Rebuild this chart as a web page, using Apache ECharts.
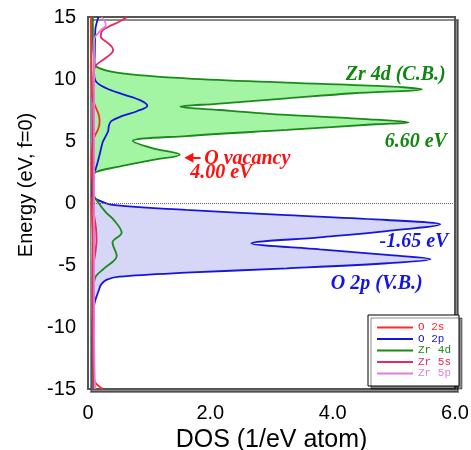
<!DOCTYPE html>
<html>
<head>
<meta charset="utf-8">
<script src="https://cdn.jsdelivr.net/npm/echarts@6/dist/echarts.min.js"></script>
<style>
html, body { margin: 0; padding: 0; background: #fff; }
#chart { width: 471px; height: 450px; }
</style>
</head>
<body>
<div id="chart"></div>
<script>
// energy (eV) / DOS pairs, listed top to bottom
const o2sE   = [15, 10, 8.5, 7.8, 7.2, 6.6, 6.0, 5.5, 5.0, 3.0, 0, -3, -10, -13.5, -14.2, -14.6, -15]
const o2sDos = [0.05, 0.06, 0.07, 0.12, 0.17, 0.19, 0.17, 0.12, 0.08, 0.06, 0.06, 0.08, 0.07, 0.07, 0.09, 0.14, 0.24]

const o2pE   = [15, 14.5, 14, 12, 10.5, 9.8, 9.25, 8.8, 8.3, 7.85, 7.4, 7.0, 6.6, 6.2, 5.8, 5.3, 4.9, 3.9, 2.8, 2.3, 1.5, 0.6,
                0.25, -0.15, -0.55, -0.97, -1.37, -1.72, -2.26, -2.77, -3.25, -3.74, -4.19, -4.54, -4.86, -5.27, -5.62, -5.94,
                -6.2, -6.6, -7.0, -7.4, -8.0, -9, -15]
const o2pDos = [0.17, 0.14, 0.12, 0.11, 0.1, 0.13, 0.3, 0.55, 0.85, 0.97, 0.8, 0.55, 0.38, 0.34, 0.33, 0.28, 0.24, 0.19, 0.13, 0.09, 0.07, 0.07,
                0.16, 0.4, 1.6, 3.25, 4.89, 5.76, 4.89, 3.79, 2.67, 3.79, 4.89, 5.6, 4.89, 3.25, 1.6, 0.51,
                0.3, 0.21, 0.18, 0.15, 0.11, 0.08, 0.07]

const zr4dE   = [15, 13, 11.6, 11.0, 10.5, 10.05, 9.7, 9.4, 9.17, 8.85, 8.44, 8.0, 7.77, 7.5, 7.1, 6.75, 6.5, 6.35, 5.89, 5.4, 5.0,
                 4.41, 3.9, 3.47, 2.93, 2.5, 2.0, 1.0, 0.1, -0.8, -1.3, -2.4, -3.2, -4.25, -5.3, -5.9, -6.75, -8, -15]
const zr4dDos = [0.08, 0.08, 0.1, 0.13, 0.5, 1.6, 3.25, 4.9, 5.46, 4.34, 3.25, 2.1, 1.51, 2.15, 3.25, 4.6, 5.24, 4.7, 3.25, 1.6, 0.73,
                 1.06, 1.5, 1.06, 0.51, 0.13, 0.08, 0.07, 0.16, 0.3, 0.41, 0.55, 0.4, 0.47, 0.26, 0.13, 0.09, 0.08, 0.07]

const zr5sE   = [15, 14.6, 14.2, 13.8, 13.4, 13.0, 12.6, 12.3, 12.0, 11.6, 11.2, 10.8, 10, 5, 0, -1, -2, -3, -4, -5, -6, -10, -15]
const zr5sDos = [0.64, 0.5, 0.33, 0.22, 0.21, 0.3, 0.39, 0.41, 0.37, 0.26, 0.15, 0.1, 0.09, 0.08, 0.08, 0.1, 0.13, 0.14, 0.12, 0.09, 0.08, 0.08, 0.09]

const zr5pE   = [15, 14.6, 14.3, 14.0, 13.6, 13.2, 12, 5, 0, -5, -10, -14, -15]
const zr5pDos = [0.22, 0.28, 0.29, 0.22, 0.15, 0.1, 0.1, 0.1, 0.1, 0.1, 0.1, 0.11, 0.12]

const names = ['O 2s', 'O 2p', 'Zr 4d', 'Zr 5s', 'Zr 5p']
const colors = ['#ff2a2a', '#1515e0', '#1a8a1a', '#e8285e', '#e07ee0']

const xTicks = [0, 2, 4, 6]
const xTickLabels = ['0', '2.0', '4.0', '6.0']

// band windows that get a shaded area
const cbFill = { top: 11.6, bottom: 2.0 }
const vbFill = { top: 0.6, bottom: -9 }

const chart = echarts.init(document.getElementById('chart'))

const pairs = (E, dos) => E.map((e, i) => [dos[i], e])

function lineSeries(i, E, dos, extra) {
  return Object.assign({
    name: names[i],
    type: 'line',
    data: pairs(E, dos),
    smooth: 0.35,
    symbol: 'none',
    z: 3,
    lineStyle: { width: 1.8, color: colors[i] },
    itemStyle: { color: colors[i] },
  }, extra || {})
}

function fillSeries(E, dos, win, color) {
  const pts = pairs(E, dos).filter((p) => p[1] <= win.top && p[1] >= win.bottom)
  return {
    type: 'custom',
    silent: true,
    z: 1,
    data: [[0, 0]],
    renderItem: (params, api) => ({
      type: 'polygon',
      shape: { points: pts.map((p) => api.coord(p)), smooth: 0.35 },
      style: { fill: color },
    }),
  }
}

const serif = { fontFamily: 'Liberation Serif', fontStyle: 'italic', fontWeight: 'bold', fontSize: 20 }
function note(coord, text, color, align) {
  return {
    coord: coord,
    value: text,
    label: Object.assign({ show: true, formatter: text, color: color, align: align || 'center', position: 'inside' }, serif),
  }
}

chart.setOption({
  animation: false,
  backgroundColor: '#fff',
  grid: {
    left: 88, right: 16, top: 17, bottom: 61,
    outerBoundsMode: 'none',
    show: true,
    backgroundColor: '#fff',
    borderColor: '#555',
    borderWidth: 2,
    shadowColor: 'rgba(0,0,0,0.45)',
    shadowOffsetX: 3,
    shadowOffsetY: 3,
  },
  xAxis: {
    type: 'value', min: 0, max: 6, interval: 2,
    name: 'DOS (1/eV atom)', nameLocation: 'middle', nameGap: 35,
    nameTextStyle: { fontFamily: 'Liberation Sans', fontSize: 25, color: '#000' },
    axisLine: { show: false }, axisTick: { show: false }, splitLine: { show: false },
    axisLabel: {
      fontFamily: 'Liberation Sans', fontSize: 20, color: '#000', margin: 14,
      formatter: (v) => xTickLabels[xTicks.indexOf(v)],
    },
  },
  yAxis: {
    type: 'value', min: -15, max: 15, interval: 5,
    name: 'Energy (eV, f=0)', nameLocation: 'middle', nameGap: 50,
    nameTextStyle: { fontFamily: 'Liberation Sans', fontSize: 20, color: '#000', padding: [0, 0, 0, 36] },
    axisLine: { show: false }, axisTick: { show: false }, splitLine: { show: false },
    axisLabel: { fontFamily: 'Liberation Sans', fontSize: 20, color: '#000', margin: 12 },
  },
  legend: {
    orient: 'vertical',
    left: 368, top: 315,
    padding: [7, 8, 7, 8],
    itemWidth: 36, itemHeight: 11, itemGap: 0.5, itemTextGap: 3,
    backgroundColor: '#fff',
    borderColor: '#000', borderWidth: 1,
    shadowColor: 'rgba(0,0,0,0.45)', shadowOffsetX: 3, shadowOffsetY: 3,
    itemStyle: { opacity: 0, borderWidth: 0 },
    lineStyle: { width: 2 },
    textStyle: { fontFamily: 'Liberation Mono', fontSize: 11, lineHeight: 11 },
    data: names.map((n, i) => ({ name: n, textStyle: { color: colors[i] } })),
  },
  series: [
    fillSeries(zr4dE, zr4dDos, cbFill, '#a3f5a3'),
    fillSeries(o2pE, o2pDos, vbFill, '#d6d6f6'),
    lineSeries(0, o2sE, o2sDos, {
      markLine: {
        silent: true, symbol: 'none', label: { show: false },
        lineStyle: { type: [1, 1], color: '#666', width: 1 },
        data: [{ yAxis: 0 }],
      },
    }),
    lineSeries(1, o2pE, o2pDos, {
      markPoint: {
        symbol: 'circle', symbolSize: 0, silent: true,
        data: [note([5.33, -3.1], '-1.65 eV', '#1515e0'), note([4.72, -6.55], 'O 2p (V.B.)', '#1515e0')],
      },
    }),
    lineSeries(2, zr4dE, zr4dDos, {
      markPoint: {
        symbol: 'circle', symbolSize: 0, silent: true,
        data: [
          note([5.03, 10.35], 'Zr 4d (C.B.)', '#108810'),
          note([5.36, 4.95], '6.60 eV', '#108810'),
          note([1.9, 3.55], 'O vacancy', '#ff1010', 'left'),
          note([2.18, 2.4], '4.00 eV', '#ff1010'),
        ],
      },
      markLine: {
        silent: true, symbol: ['none', 'triangle'], symbolSize: [10, 9], label: { show: false },
        lineStyle: { type: 'solid', color: '#ff1010', width: 2 },
        data: [[{ coord: [1.84, 3.65] }, { coord: [1.65, 3.65] }]],
      },
    }),
    lineSeries(3, zr5sE, zr5sDos),
    lineSeries(4, zr5pE, zr5pDos),
  ],
})
</script>
</body>
</html>
